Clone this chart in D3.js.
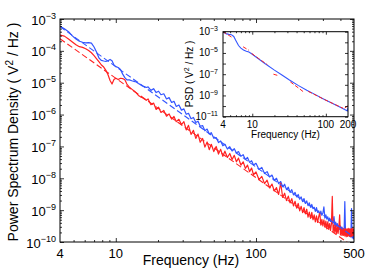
<!DOCTYPE html>
<html>
<head>
<meta charset="utf-8">
<script src="https://cdn.jsdelivr.net/npm/d3@7"></script>
<style>
  html, body { margin: 0; padding: 0; background: #fff; }
  svg { display: block; font-family: "Liberation Sans", Arial, Helvetica, sans-serif; }
</style>
</head>
<body>
<div id="chart"></div>
<script>
// Frequency bins (Hz) shared by both measured spectra
const freq = [
    4, 4.3, 4.6, 4.9, 5.2, 5.5, 5.8, 6.1, 6.4, 6.7,
    7.0, 7.3, 7.6, 7.9, 8.2, 8.5, 8.8, 9.1, 9.4, 9.7,
    10, 10.4, 10.8, 11.2, 11.6, 12, 12.5, 13, 13.5, 14,
    14.5, 15, 15.5, 16, 16.5,
    17, 17.8, 18.6, 19.4, 20.2, 21, 22, 23, 24, 25,
    26, 27, 28.2, 29.4, 30.6, 31.8, 33, 34.4, 35.8, 37.2,
    38.6, 40, 41.6, 43.2, 44.8, 46.4, 48, 50, 52, 54,
    56, 58, 60, 62.5, 65, 67.5, 70, 72.5, 75, 78,
    81, 84, 87, 90, 93, 96,
    100, 105, 110, 115, 120, 125, 130, 135, 140, 145,
    150, 155, 160, 165, 170, 175, 180, 185, 190, 195,
    200, 205, 210, 215, 220, 225, 230, 235, 240, 245,
    250, 255, 260, 265, 270, 275, 280, 285, 290, 295,
    300, 305, 310, 315, 320, 325, 330, 335, 340, 345,
    350, 355, 360, 365, 370, 375, 380, 385, 390, 395,
    400, 405, 410, 415, 420, 425, 430, 435, 440, 445,
    450, 455, 460, 465, 470, 475, 480, 485, 490, 495,
    500
];

// Blue spectrum (V^2/Hz)
const bluePsd = [
    5.9e-4, 4.9e-4, 4.0e-4, 2.95e-4, 2.35e-4, 2.0e-4, 1.86e-4, 1.78e-4, 1.82e-4, 1.74e-4,
    1.32e-4, 9.1e-5, 5.9e-5, 5.0e-5, 4.8e-5, 4.7e-5, 4.9e-5, 5.4e-5, 4.9e-5, 3.6e-5,
    3.2e-5, 3.0e-5, 2.6e-5, 1.86e-5, 1.45e-5, 1.23e-5, 1.23e-5, 1.15e-5, 1.10e-5, 1.05e-5,
    9.5e-6, 8.7e-6, 7.9e-6, 7.6e-6, 7.1e-6,
    7.4e-6, 5.75e-6, 6.5e-6, 4.9e-6, 5.4e-6, 4.2e-6, 4.5e-6, 3.1e-6, 3.4e-6, 2.4e-6,
    2.6e-6, 1.8e-6, 2.0e-6, 1.38e-6, 1.51e-6, 1.02e-6, 1.1e-6, 7.4e-7, 8.1e-7, 5.6e-7,
    6.2e-7, 4.3e-7, 4.5e-7, 3.1e-7, 3.5e-7, 2.45e-7, 2.7e-7, 1.8e-7, 1.9e-7, 1.32e-7,
    1.48e-7, 1.05e-7, 1.17e-7, 8.3e-8, 9.8e-8, 7.2e-8, 8.5e-8, 6.2e-8, 6.9e-8, 4.9e-8,
    5.5e-8, 3.9e-8, 4.5e-8, 3.16e-8, 3.55e-8, 2.6e-8,
    2.95e-8, 1.9e-8, 2.2e-8, 1.41e-8, 1.62e-8, 1.1e-8, 1.26e-8, 8.5e-9, 1.0e-8, 6.8e-9,
    7.9e-9, 5.4e-9, 6.5e-9, 4.4e-9, 5.25e-9, 3.6e-9, 4.4e-9, 3.0e-9, 3.6e-9, 2.6e-9,
    3.1e-9, 2.2e-9, 2.6e-9, 1.86e-9, 2.3e-9, 1.62e-9, 1.95e-9, 1.38e-9, 1.7e-9, 1.23e-9,
    1.51e-9, 1.12e-9, 1.23e-9, 9.1e-10, 1.2e-9, 8.5e-10, 9.5e-10, 7.2e-10, 9.3e-10, 6.9e-10,
    8.1e-10, 1.26e-9, 5.6e-10, 7.1e-10, 5.25e-10, 6.2e-10, 4.5e-10, 5.6e-10, 4.4e-10, 5.4e-10,
    3.8e-10, 4.5e-10, 6.3e-10, 3.2e-10, 4.2e-10, 3.1e-10, 3.8e-10, 2.8e-10, 3.4e-10, 2.5e-10,
    3.2e-10, 2.5e-10, 2.95e-10, 2.15e-10, 2.6e-10, 2.1e-10, 1.86e-9, 1.86e-10, 2.35e-10, 1.74e-10,
    2.2e-10, 1.66e-10, 2.0e-10, 1.51e-10, 1.9e-10, 1.45e-10, 1.12e-9, 1.35e-10, 1.66e-10, 1.26e-10,
    1.48e-10
];

// Red spectrum (V^2/Hz)
const redPsd = [
    3.1e-4, 2.9e-4, 2.35e-4, 1.9e-4, 1.55e-4, 1.35e-4, 1.29e-4, 1.17e-4, 1.02e-4, 8.7e-5,
    7.1e-5, 5.6e-5, 4.5e-5, 3.6e-5, 3.1e-5, 2.45e-5, 1.78e-5, 1.17e-5, 9.1e-6, 1.26e-5,
    1.38e-5, 1.26e-5, 1.38e-5, 1.35e-5, 1.23e-5, 9.1e-6, 7.2e-6, 6.3e-6, 5.5e-6, 4.8e-6,
    4.0e-6, 3.6e-6, 3.4e-6, 3.1e-6, 2.8e-6,
    3.1e-6, 2.05e-6, 2.3e-6, 1.45e-6, 1.7e-6, 1.17e-6, 1.35e-6, 8.9e-7, 1.05e-6, 7.2e-7,
    8.7e-7, 6.0e-7, 7.1e-7, 4.8e-7, 6.0e-7, 3.3e-7, 4.6e-7, 2.4e-7, 3.2e-7, 1.78e-7,
    2.45e-7, 1.35e-7, 1.78e-7, 9.5e-8, 1.38e-7, 7.9e-8, 1.17e-7, 6.9e-8, 1.0e-7, 5.75e-8,
    8.1e-8, 4.9e-8, 7.1e-8, 4.5e-8, 6.0e-8, 3.9e-8, 5.25e-8, 3.3e-8, 4.3e-8, 2.6e-8,
    3.3e-8, 2.05e-8, 2.6e-8, 1.62e-8, 2.1e-8, 1.29e-8,
    1.58e-8, 9.1e-9, 1.15e-8, 6.8e-9, 8.7e-9, 5.0e-9, 6.6e-9, 4.0e-9, 5.1e-9, 3.1e-9,
    7.1e-9, 2.5e-9, 3.4e-9, 2.0e-9, 2.75e-9, 1.7e-9, 2.3e-9, 1.35e-9, 1.9e-9, 1.15e-9,
    1.62e-9, 9.5e-10, 1.32e-9, 8.3e-10, 1.2e-9, 7.6e-10, 1.07e-9, 6.0e-10, 8.7e-10, 5.5e-10,
    8.5e-10, 5.0e-10, 7.1e-10, 4.3e-10, 6.6e-10, 4.1e-10, 6.2e-10, 8.3e-10, 3.4e-10, 5.1e-10,
    3.2e-10, 5.0e-10, 2.95e-10, 4.5e-10, 2.6e-10, 4.3e-10, 2.6e-10, 3.8e-10, 2.3e-10, 3.7e-10,
    2.7e-9, 2.1e-10, 3.4e-10, 2.0e-10, 3.3e-10, 1.86e-10, 3.0e-10, 1.86e-10, 2.95e-10, 7.1e-10,
    1.66e-10, 2.7e-10, 1.62e-10, 2.75e-10, 1.62e-10, 2.6e-10, 1.55e-10, 2.6e-10, 1.48e-10, 2.6e-10,
    1.51e-10, 2.7e-10, 1.55e-10, 2.6e-10, 1.48e-10, 2.6e-10, 1.51e-10, 2.75e-10, 1.51e-10, 2.6e-10,
    1.58e-10
];

// Power-law fits (dashed)
const fitF = [4, 500];
const blueFitPsd = [5.75e-4, 1.41e-10];
const redFitPsd = [2.4e-4, 6.9e-11];

// Inset: model spectrum (blue) and piecewise fits (red dashed)
const insetF = [4, 4.4, 4.8, 5.2, 5.6, 6.0, 6.5, 7.0, 7.6, 8.3, 9.0, 10, 11, 12.5, 15, 20, 25, 32, 42, 55, 71, 90, 120, 150, 180, 196, 200];
const insetBluePsd = [8.9e-4, 6.6e-4, 5.6e-4, 5.25e-4, 3.55e-4, 1.41e-4, 5.0e-5, 2.8e-5, 1.9e-5, 1.48e-5, 1.2e-5, 7.6e-6, 4.7e-6, 2.4e-6, 9.5e-7, 2.4e-7, 8.9e-8, 2.8e-8, 8.9e-9, 3.16e-9, 1.26e-9, 5.25e-10, 1.9e-10, 8.9e-11, 4.7e-11, 3.55e-11, 7.1e-11];
const insetRedF = [[4, 5.5], [7.5, 9.0], [9.8, 12.1, 16], [19.4, 23], [32.9, 49.6], [57.6, 100, 171], [180, 200]];
const insetRedPsd = [[1.0e-3, 2.5e-4], [3.8e-5, 1.78e-5], [9.1e-6, 3.1e-6, 7.9e-7], [1.0e-7, 7.1e-8], [1.9e-8, 2.2e-9], [2.4e-9, 3.55e-10, 6.3e-11], [6.3e-11, 1.12e-10]];

// Tick labels
const xLabels = [4, 10, 100, 500];
const yExps = [-3, -4, -5, -6, -7, -8, -9, -10];
const insetXLabels = [4, 10, 100, 200];
const insetYExps = [-3, -5, -7, -9, -11];

const W = 391, H = 273;
const BLUE = '#3355ff', RED = '#ff2222';
const main = { left: 60, right: 354, top: 19, bottom: 242 };
const ins = { left: 223, right: 348, top: 31.7, bottom: 116.7 };

const svg = d3.select('#chart').append('svg')
    .attr('width', W)
    .attr('height', H);

const defs = svg.append('defs');
defs.append('clipPath').attr('id', 'clip-main').append('rect')
    .attr('x', main.left).attr('y', main.top)
    .attr('width', main.right - main.left).attr('height', main.bottom - main.top);
defs.append('clipPath').attr('id', 'clip-inset').append('rect')
    .attr('x', ins.left).attr('y', ins.top)
    .attr('width', ins.right - ins.left).attr('height', ins.bottom - ins.top);

const x = d3.scaleLog().domain([4, 500]).range([main.left, main.right]);
const y = d3.scaleLog().domain([1e-10, 1e-3]).range([main.bottom, main.top]);
const xi = d3.scaleLog().domain([4, 200]).range([ins.left, ins.right]);
const yi = d3.scaleLog().domain([1e-11, 1e-3]).range([ins.bottom, ins.top]);

// minor log ticks between decades
function minorTicks(lo, hi) {
    const out = [];
    for (let e = Math.floor(Math.log10(lo)); e <= Math.ceil(Math.log10(hi)); e++) {
        for (let m = 2; m <= 9; m++) {
            const v = m * Math.pow(10, e);
            if (v > lo && v < hi) out.push(v);
        }
    }
    return out;
}
function decades(lo, hi) {
    const out = [];
    for (let e = Math.ceil(Math.log10(lo) - 1e-9); e <= Math.floor(Math.log10(hi) + 1e-9); e++) out.push(Math.pow(10, e));
    return out;
}

function tickSet(g, axisFn, scale, values, len) {
    g.call(axisFn(scale).tickValues(values).tickSize(-len).tickFormat(''));
    g.select('.domain').remove();
    g.selectAll('line').attr('stroke', '#000').attr('stroke-width', 0.8);
}

function frameTicks(sc, box, xs, ys, major, minor) {
    const sets = [
        [d3.axisBottom, sc.x, 'translate(0,' + box.bottom + ')', xs],
        [d3.axisTop, sc.x, 'translate(0,' + box.top + ')', xs],
        [d3.axisLeft, sc.y, 'translate(' + box.left + ',0)', ys],
        [d3.axisRight, sc.y, 'translate(' + box.right + ',0)', ys]
    ];
    sets.forEach(([fn, s, tr, v]) => {
        tickSet(svg.append('g').attr('transform', tr), fn, s, v.major, major);
        if (v.minor.length) tickSet(svg.append('g').attr('transform', tr), fn, s, v.minor, minor);
    });
}

function supLabel(px, py, exp, size, supSize, rise) {
    const t = svg.append('text')
        .attr('x', px).attr('y', py)
        .attr('text-anchor', 'end')
        .attr('fill', '#000');
    t.append('tspan').attr('font-size', size).text('10');
    t.append('tspan').attr('font-size', supSize).attr('dy', -rise).text('\u2212' + Math.abs(exp));
}

// ---- Main plot ----
svg.append('rect')
    .attr('x', main.left).attr('y', main.top)
    .attr('width', main.right - main.left).attr('height', main.bottom - main.top)
    .attr('fill', '#fff');

const plot = svg.append('g').attr('clip-path', 'url(#clip-main)');
const line = d3.line().x((d, i) => x(freq[i])).y(d => y(d));
const fitLine = d3.line().x((d, i) => x(fitF[i])).y(d => y(d));

plot.append('path').datum(bluePsd).attr('d', line)
    .attr('fill', 'none').attr('stroke', BLUE).attr('stroke-width', 1.2)
    .attr('stroke-linejoin', 'round');
plot.append('path').datum(redPsd).attr('d', line)
    .attr('fill', 'none').attr('stroke', RED).attr('stroke-width', 1.2)
    .attr('stroke-linejoin', 'round');
plot.append('path').datum(blueFitPsd).attr('d', fitLine)
    .attr('fill', 'none').attr('stroke', BLUE).attr('stroke-width', 1.1)
    .attr('stroke-dasharray', '6,3');
plot.append('path').datum(redFitPsd).attr('d', fitLine)
    .attr('fill', 'none').attr('stroke', RED).attr('stroke-width', 1.1)
    .attr('stroke-dasharray', '6,3');

frameTicks({ x: x, y: y }, main,
    { major: [10, 100], minor: minorTicks(4, 500) },
    { major: decades(1e-10, 1e-3), minor: minorTicks(1e-10, 1e-3) }, 4, 2);

svg.append('rect')
    .attr('x', main.left).attr('y', main.top)
    .attr('width', main.right - main.left).attr('height', main.bottom - main.top)
    .attr('fill', 'none').attr('stroke', '#000').attr('stroke-width', 1);

yExps.forEach(e => supLabel(main.left - 4, y(Math.pow(10, e)) + 5.5, e, 13, 9, 6));

svg.append('g').selectAll('text').data(xLabels).join('text')
    .attr('x', d => x(d)).attr('y', 258)
    .attr('text-anchor', 'middle').attr('font-size', 13).attr('fill', '#000')
    .text(d => d);

svg.append('text')
    .attr('x', 191).attr('y', 265)
    .attr('text-anchor', 'middle').attr('font-size', 14).attr('fill', '#000')
    .text('Frequency (Hz)');

const yt = svg.append('text')
    .attr('transform', 'translate(18,132) rotate(-90)')
    .attr('text-anchor', 'middle').attr('font-size', 14).attr('fill', '#000');
yt.append('tspan').text('Power Spectrum Density ( V');
yt.append('tspan').attr('font-size', 10).attr('dy', -5).text('2');
yt.append('tspan').attr('dy', 5).text(' / Hz )');

// ---- Inset ----
svg.append('rect')
    .attr('x', ins.left).attr('y', ins.top)
    .attr('width', ins.right - ins.left).attr('height', ins.bottom - ins.top)
    .attr('fill', '#fff');

const iplot = svg.append('g').attr('clip-path', 'url(#clip-inset)');
const iline = d3.line().x((d, i) => xi(insetF[i])).y(d => yi(d));
iplot.append('path').datum(insetBluePsd).attr('d', iline)
    .attr('fill', 'none').attr('stroke', BLUE).attr('stroke-width', 1.1);
insetRedPsd.forEach((seg, k) => {
    iplot.append('path').datum(seg)
        .attr('d', d3.line().x((d, i) => xi(insetRedF[k][i])).y(d => yi(d)))
        .attr('fill', 'none').attr('stroke', RED).attr('stroke-width', 1)
        .attr('stroke-dasharray', '4,2');
});

frameTicks({ x: xi, y: yi }, ins,
    { major: [10, 100], minor: minorTicks(4, 200) },
    { major: decades(1e-11, 1e-3), minor: [] }, 3, 1.5);

svg.append('rect')
    .attr('x', ins.left).attr('y', ins.top)
    .attr('width', ins.right - ins.left).attr('height', ins.bottom - ins.top)
    .attr('fill', 'none').attr('stroke', '#000').attr('stroke-width', 1);

insetYExps.forEach(e => supLabel(ins.left - 5, yi(Math.pow(10, e)) + 3.5, e, 10, 7, 4));

svg.append('g').selectAll('text').data(insetXLabels).join('text')
    .attr('x', d => xi(d)).attr('y', 128)
    .attr('text-anchor', 'middle').attr('font-size', 10).attr('fill', '#000')
    .text(d => d);

svg.append('text')
    .attr('x', (ins.left + ins.right) / 2).attr('y', 138)
    .attr('text-anchor', 'middle').attr('font-size', 10).attr('fill', '#000')
    .text('Frequency (Hz)');

const iyt = svg.append('text')
    .attr('transform', 'translate(193,74) rotate(-90)')
    .attr('text-anchor', 'middle').attr('font-size', 10).attr('fill', '#000');
iyt.append('tspan').text('PSD ( V');
iyt.append('tspan').attr('font-size', 7).attr('dy', -4).text('2');
iyt.append('tspan').attr('dy', 4).text(' / Hz )');
</script>
</body>
</html>
